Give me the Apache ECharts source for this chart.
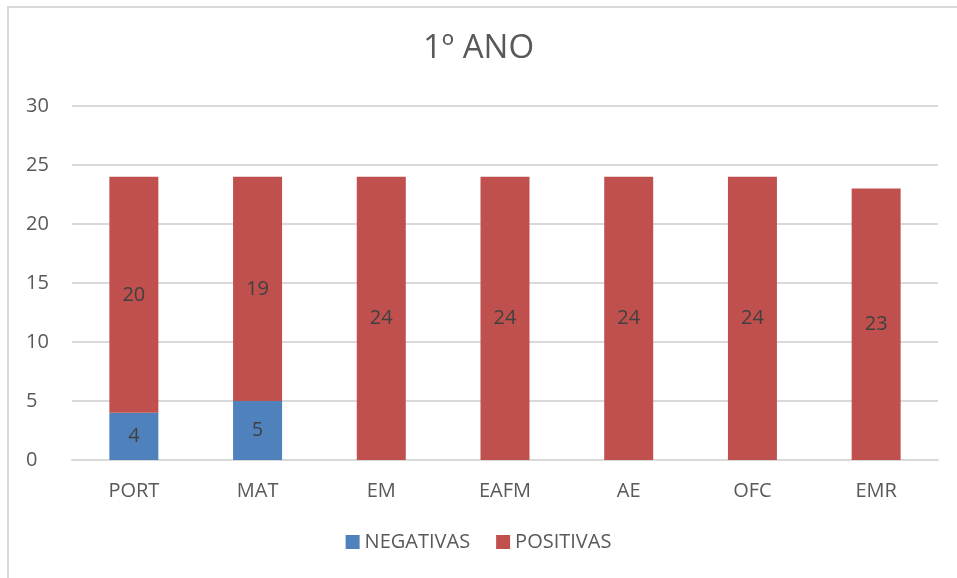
<!DOCTYPE html>
<html>
<head>
<meta charset="utf-8">
<script src="https://cdn.jsdelivr.net/npm/echarts@6/dist/echarts.min.js"></script>
<style>
html,body{margin:0;padding:0;background:#fff;overflow:hidden;}
#frame{position:absolute;left:7px;top:6px;width:1000px;height:600px;border-left:2px solid #d9d9d9;border-top:2px solid #d9d9d9;}
#main{position:absolute;left:0;top:0;width:957px;height:578px;}
</style>
</head>
<body>
<div id="frame"></div>
<div id="main"></div>
<script>
var categories = ['PORT', 'MAT', 'EM', 'EAFM', 'AE', 'OFC', 'EMR'];
var negativas = [4, 5, 0, 0, 0, 0, 0];
var positivas = [20, 19, 24, 24, 24, 24, 23];
var yTicks = [0, 5, 10, 15, 20, 25, 30];

var main = document.getElementById('main');
var mychart = echarts.init(main);
var font = 'Open Sans, Liberation Sans, sans-serif';
var lbl = {
    show: true, position: 'inside', fontSize: 20, color: '#404040', fontFamily: font,
    formatter: function (p) { return p.value ? p.value : ''; }
};
var option = {
    animation: false,
    title: {text: '1º ANO', left: 'center', top: 27,
        textStyle: {fontSize: 33, fontWeight: 'normal', color: '#595959', fontFamily: font}},
    legend: {data: ['NEGATIVAS', 'POSITIVAS'], bottom: 21, left: 'center',
        itemWidth: 14, itemHeight: 14, itemGap: 26, icon: 'rect',
        textStyle: {fontSize: 20, color: '#595959', fontFamily: font}},
    grid: {left: 72, right: 19, top: 106, bottom: 118},
    xAxis: {type: 'category', data: categories,
        axisLine: {lineStyle: {color: '#d9d9d9', width: 2}},
        axisTick: {show: false},
        axisLabel: {fontSize: 20, color: '#595959', fontFamily: font, margin: 21}},
    yAxis: {type: 'value', min: yTicks[0], max: yTicks[yTicks.length - 1], interval: 5,
        axisLine: {show: false}, axisTick: {show: false},
        splitLine: {lineStyle: {color: '#d9d9d9', width: 2}},
        axisLabel: {fontSize: 20, color: '#595959', fontFamily: font, margin: 46, align: 'left'}},
    series: [
        {name: 'NEGATIVAS', type: 'bar', stack: 'total', barWidth: 49, data: negativas,
            itemStyle: {color: '#4f81bd'}, label: lbl},
        {name: 'POSITIVAS', type: 'bar', stack: 'total', barWidth: 49, data: positivas,
            itemStyle: {color: '#c0504d'}, label: lbl}
    ]
};
mychart.setOption(option);
</script>
</body>
</html>
